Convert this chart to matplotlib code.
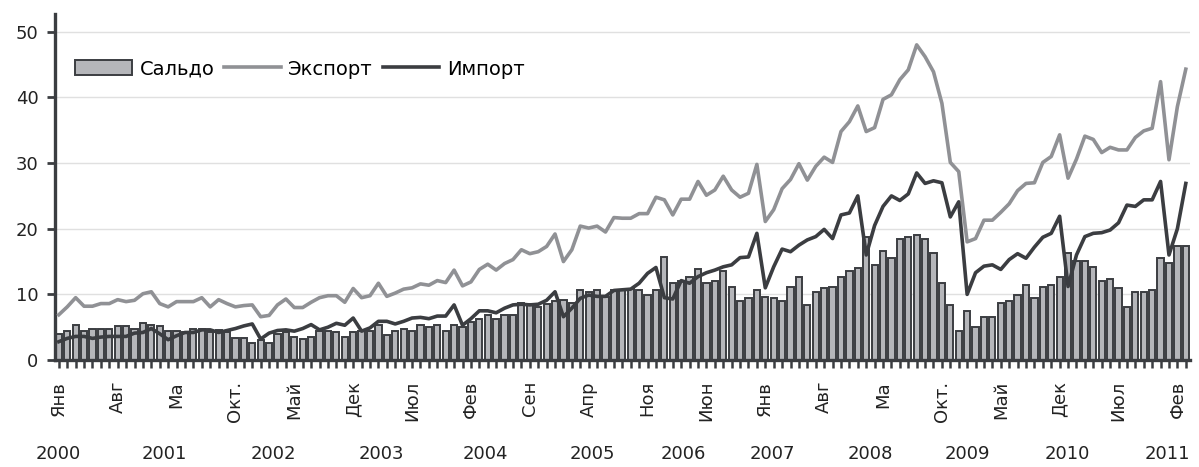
import matplotlib
matplotlib.use("Agg")
import matplotlib.pyplot as plt
from matplotlib.transforms import blended_transform_factory
import numpy as np

# monthly values, Jan 2000 .. Mar 2011
saldo = [
    4.0, 4.5, 5.4, 4.5, 4.8, 4.8, 4.8, 5.2, 5.2, 4.7, 5.7, 5.4,
    5.2, 4.5, 4.5, 4.3, 4.7, 4.7, 4.3, 4.6, 4.3, 3.3,
    3.3, 2.6, 3.0, 2.6, 3.9, 4.2, 3.5, 3.2, 3.5, 4.5, 4.5, 4.2,
    3.5, 4.2, 4.5, 4.5, 5.4, 3.8, 4.5, 4.8, 4.5, 5.4, 5.1, 5.4,
    4.5, 5.4, 5.1, 5.8, 6.2, 6.9, 6.2, 6.9, 6.9, 8.7, 8.6, 8.1,
    8.6, 9.0, 9.1, 8.7, 10.6, 10.3, 10.6, 9.6, 10.7, 10.7, 10.8, 10.6,
    9.9, 10.6, 15.7, 11.8, 12.1, 12.7, 13.9, 11.8, 12.1, 13.6, 11.2, 9.0,
    9.4, 10.6, 9.6, 9.4, 9.0, 11.2, 12.7, 8.4, 10.3, 10.9, 11.2, 12.7,
    13.6, 14.0, 18.8, 14.5, 16.6, 15.5, 18.5, 18.8, 19.0, 18.5, 16.3, 11.8,
    8.4, 4.5, 7.5, 5.1, 6.6, 6.6, 8.7, 9.0, 9.9, 11.4, 9.4, 11.2,
    11.4, 12.7, 16.3, 15.1, 15.1, 14.1, 12.1, 12.4, 10.9, 8.1, 10.3, 10.3,
    10.6, 15.5, 14.8, 17.3, 17.3,
]

export = [
    6.9, 8.1, 9.5, 8.2, 8.2, 8.6, 8.6, 9.2, 8.9, 9.1, 10.1, 10.4,
    8.6, 8.1, 8.9, 8.9, 8.9, 9.5, 8.1, 9.2, 8.6, 8.1,
    8.3, 8.4, 6.6, 6.8, 8.4, 9.3, 8.0, 8.0, 8.8, 9.5, 9.8, 9.8,
    8.8, 10.9, 9.5, 9.8, 11.7, 9.7, 10.2, 10.8, 11.0, 11.6, 11.4, 12.1,
    11.8, 13.7, 11.3, 11.9, 13.8, 14.6, 13.7, 14.7, 15.3, 16.8, 16.2, 16.5,
    17.3, 19.2, 15.0, 16.8, 20.4, 20.1, 20.4, 19.5, 21.7, 21.6, 21.6, 22.3,
    22.3, 24.8, 24.4, 22.1, 24.5, 24.5, 27.2, 25.1, 25.9, 28.0, 25.9, 24.8,
    25.4, 29.8, 21.1, 22.9, 26.1, 27.5, 29.9, 27.4, 29.5, 30.9, 30.1, 34.8,
    36.3, 38.7, 34.8, 35.4, 39.7, 40.4, 42.7, 44.2, 48.0, 46.2, 43.9, 39.1,
    30.1, 28.7, 18.0, 18.5, 21.3, 21.3, 22.5, 23.8, 25.8, 26.9, 27.0, 30.1,
    31.0, 34.3, 27.7, 30.6, 34.1, 33.6, 31.6, 32.4, 32.0, 32.0, 33.9, 34.9,
    35.3, 42.4, 30.5, 38.6, 44.3,
]

imports = [
    2.8, 3.3, 3.6, 3.6, 3.3, 3.5, 3.6, 3.6, 3.6, 4.1, 4.2, 4.8,
    4.0, 3.1, 3.7, 4.2, 4.2, 4.6, 4.6, 4.2, 4.5, 4.8,
    5.2, 5.5, 3.2, 4.1, 4.5, 4.6, 4.4, 4.8, 5.4, 4.6, 5.0, 5.6,
    5.3, 6.4, 4.4, 4.9, 5.9, 5.9, 5.5, 5.9, 6.4, 6.5, 6.3, 6.7,
    6.7, 8.4, 5.3, 6.3, 7.5, 7.5, 7.2, 7.9, 8.4, 8.5, 8.4, 8.5,
    9.1, 10.4, 6.6, 7.9, 9.4, 9.9, 9.7, 9.7, 10.6, 10.7, 10.8, 11.7,
    13.2, 14.1, 9.5, 9.3, 12.1, 11.7, 12.7, 13.3, 13.7, 14.2, 14.5, 15.6,
    15.7, 19.3, 11.0, 14.2, 16.9, 16.5, 17.5, 18.3, 18.8, 19.9, 18.5, 22.1,
    22.4, 25.0, 16.0, 20.5, 23.4, 25.0, 24.3, 25.3, 28.5, 26.9, 27.3, 27.0,
    21.8, 24.1, 10.0, 13.3, 14.3, 14.5, 13.8, 15.3, 16.2, 15.5, 17.2, 18.7,
    19.3, 21.9, 11.2, 16.0, 18.8, 19.3, 19.4, 19.8, 20.9, 23.6, 23.4, 24.4,
    24.4, 27.2, 16.0, 20.0, 26.9,
]

month_labels = ["Янв", "Авг", "Ма", "Окт.", "Май", "Дек", "Июл", "Фев", "Сен", "Апр",
                "Ноя", "Июн", "Янв", "Авг", "Ма", "Окт.", "Май", "Дек", "Июл", "Фев"]
label_step = 7

years = ["2000", "2001", "2002", "2003", "2004", "2005",
         "2006", "2007", "2008", "2009", "2010", "2011"]
year_pos = [-0.1, 12.5, 25.5, 38.3, 50.7, 63.5, 74.3, 84.9, 96.5, 108.0, 119.9, 131.8]

DARK = "#3b3d41"
LIGHT = "#909195"
BAR = "#b5b6ba"

plt.rcParams['font.family'] = ['DejaVu Sans']

fig = plt.figure(figsize=(11.99, 4.67), dpi=100)
ax = fig.add_axes([0.0459, 0.229, 0.9466, 0.741])

x = np.arange(len(saldo))
h_bar = ax.bar(x, saldo, width=0.74, color=BAR, edgecolor=DARK, linewidth=1.4,
               label="Сальдо", zorder=2)
h_exp, = ax.plot(x, export, color=LIGHT, linewidth=2.6, label="Экспорт", zorder=3)
h_imp, = ax.plot(x, imports, color=DARK, linewidth=2.6, label="Импорт", zorder=4)

ax.set_xlim(-0.45, 134.5)
ax.set_ylim(0, 52.7)
ax.set_yticks([0, 10, 20, 30, 40, 50])
ax.grid(axis='y', color="#e0e0e0", linewidth=1.0)
ax.set_axisbelow(True)

for side in ['top', 'right']:
    ax.spines[side].set_visible(False)
for side in ['left', 'bottom']:
    ax.spines[side].set_color(DARK)
    ax.spines[side].set_linewidth(2.4)

ticklabels = [""] * len(saldo)
for k, lab in enumerate(month_labels):
    ticklabels[k * label_step] = lab
ax.set_xticks(x)
ax.set_xticklabels(ticklabels, rotation=90, fontsize=13, color="#222222")
ax.tick_params(axis='x', direction='out', length=6, width=1.8, color=DARK, pad=9)
ax.tick_params(axis='y', direction='out', length=6, width=2.0, color=DARK,
               labelsize=13, labelcolor="#222222", pad=6)

trans = blended_transform_factory(ax.transData, fig.transFigure)
for pos, yr in zip(year_pos, years):
    ax.text(pos, 0.027, yr, transform=trans, ha='center', va='center',
            fontsize=13, color="#222222")

ax.legend([h_bar, h_exp, h_imp], ["Сальдо", "Экспорт", "Импорт"],
          loc='center left', bbox_to_anchor=(0.018, 0.841), ncol=3, frameon=False,
          fontsize=14, handlelength=2.9, handleheight=0.8, handletextpad=0.4,
          columnspacing=0.5, borderpad=0, borderaxespad=0)

fig.savefig("out.png", dpi=100)
